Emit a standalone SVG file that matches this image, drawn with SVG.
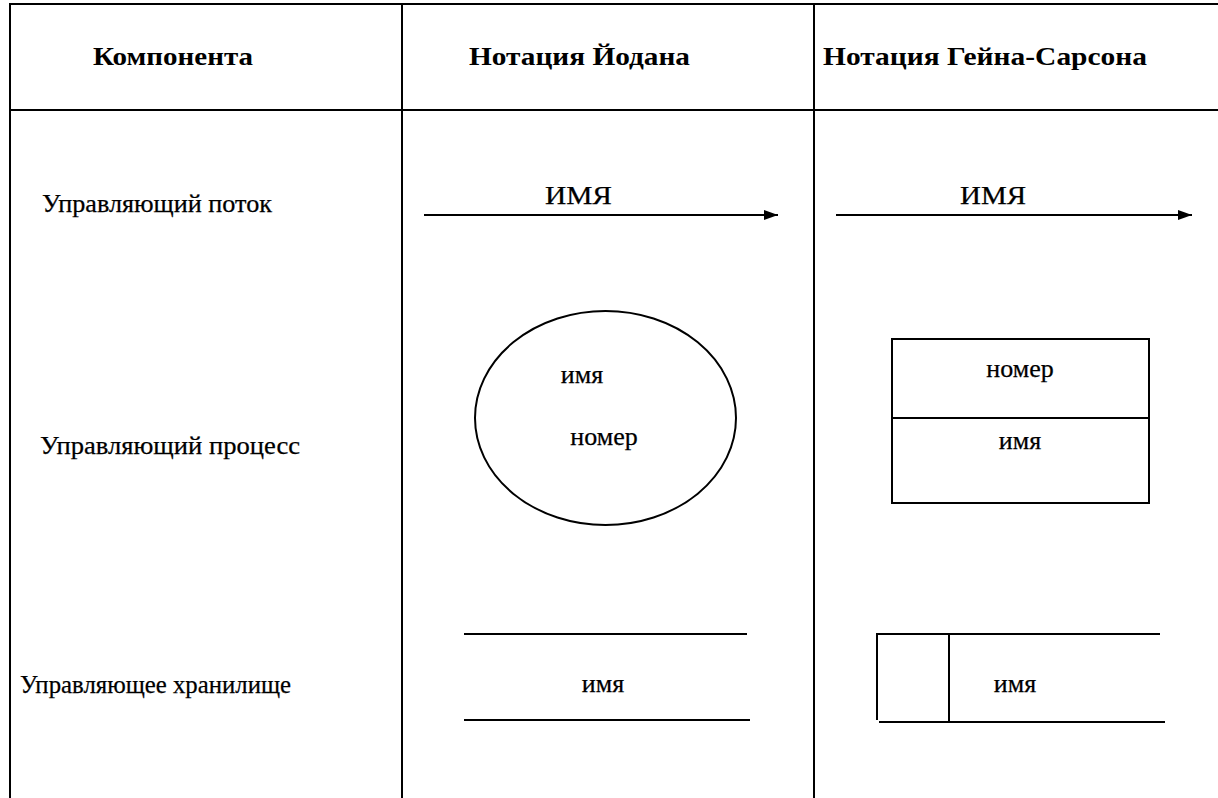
<svg xmlns="http://www.w3.org/2000/svg" width="1218" height="798" viewBox="0 0 1218 798">
<defs>
<style>
.ln{stroke:#000;stroke-width:2;fill:none}
.hd{font-family:"Liberation Serif","Times New Roman","DejaVu Serif",serif;font-weight:bold;font-size:26px;fill:#000}
.tx{font-family:"Liberation Serif","Times New Roman","DejaVu Serif",serif;font-size:26px;fill:#000;stroke:#000;stroke-width:0.25}
</style>
<marker id="arr2" viewBox="0 0 14 10" refX="14" refY="5" markerWidth="14" markerHeight="10" markerUnits="userSpaceOnUse" orient="auto">
<path d="M0,0 L14,5 L0,10 z" fill="#000"/>
</marker>
</defs>
<rect width="1218" height="798" fill="#fff"/>
<g id="table">
<line class="ln" x1="9" y1="4" x2="1218" y2="4" stroke-width="3"/>
<line class="ln" x1="10" y1="4" x2="10" y2="798"/>
<line class="ln" x1="402" y1="4" x2="402" y2="798"/>
<line class="ln" x1="814" y1="4" x2="814" y2="798"/>
<line class="ln" x1="10" y1="110" x2="1218" y2="110"/>
</g>
<g id="headers">
<text class="hd" x="93" y="65" textLength="160" lengthAdjust="spacingAndGlyphs">Компонента</text>
<text class="hd" x="469" y="65" textLength="221" lengthAdjust="spacingAndGlyphs">Нотация Йодана</text>
<text class="hd" x="823" y="65" textLength="324" lengthAdjust="spacingAndGlyphs">Нотация Гейна-Сарсона</text>
</g>
<g id="row-labels">
<text class="tx" x="42" y="212" textLength="230" lengthAdjust="spacingAndGlyphs">Управляющий поток</text>
<text class="tx" x="40" y="454" textLength="260" lengthAdjust="spacingAndGlyphs">Управляющий процесс</text>
<text class="tx" x="20" y="693" textLength="271" lengthAdjust="spacingAndGlyphs">Управляющее хранилище</text>
</g>
<g id="connectors">
<line class="ln" x1="424" y1="215" x2="778" y2="215" marker-end="url(#arr2)"/>
<line class="ln" x1="836" y1="215" x2="1192" y2="215" marker-end="url(#arr2)"/>
</g>
<g id="flow-yourdon-label"><text class="tx" x="545" y="204" textLength="67" lengthAdjust="spacingAndGlyphs">ИМЯ</text></g>
<g id="flow-gane-label"><text class="tx" x="960" y="204" textLength="66" lengthAdjust="spacingAndGlyphs">ИМЯ</text></g>
<g id="process-yourdon">
<ellipse class="ln" cx="605.5" cy="418" rx="130.5" ry="107"/>
<text class="tx" x="582" y="383" text-anchor="middle">имя</text>
<text class="tx" x="604" y="445" text-anchor="middle">номер</text>
</g>
<g id="process-gane">
<rect class="ln" x="892" y="339" width="257" height="164"/>
<line class="ln" x1="892" y1="418" x2="1149" y2="418"/>
<text class="tx" x="1020" y="377" text-anchor="middle">номер</text>
<text class="tx" x="1020" y="449" text-anchor="middle">имя</text>
</g>
<g id="store-yourdon">
<line class="ln" x1="464" y1="634" x2="747" y2="634"/>
<line class="ln" x1="464" y1="720" x2="750" y2="720"/>
<text class="tx" x="603" y="692" text-anchor="middle">имя</text>
</g>
<g id="store-gane">
<line class="ln" x1="877" y1="633" x2="877" y2="720"/>
<line class="ln" x1="949" y1="633" x2="949" y2="721"/>
<line class="ln" x1="876" y1="634" x2="1160" y2="634"/>
<line class="ln" x1="879" y1="722" x2="1165" y2="722"/>
<text class="tx" x="1015" y="692" text-anchor="middle">имя</text>
</g>
</svg>
